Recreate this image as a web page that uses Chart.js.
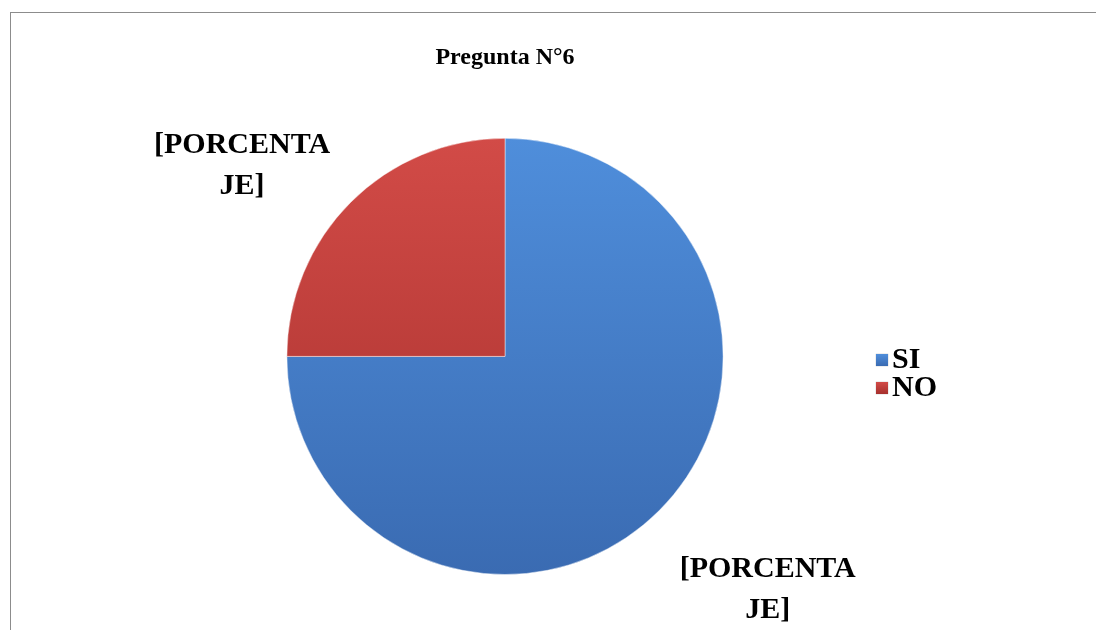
<!DOCTYPE html>
<html>
<head>
<meta charset="utf-8">
<script src="https://cdn.jsdelivr.net/npm/chart.js@4.4.0/dist/chart.umd.min.js"></script>
<style>
  html, body { margin: 0; padding: 0; background: #fff; }
  #wrap { position: relative; width: 1096px; height: 630px; overflow: hidden; }
  #frame { position: absolute; left: 10px; top: 12px; width: 1200px; height: 700px; border: 1px solid #8c8c8c; }
  canvas { position: absolute; left: 0; top: 0; }
  #legend { position: absolute; left: 876px; top: 344px; font: bold 30px "Liberation Serif", "Times New Roman", serif; color: #000; }
  #legend div { height: 28px; line-height: 28px; white-space: nowrap; }
  #legend span { display: inline-block; width: 12px; height: 12px; margin-right: 4px; vertical-align: 2px; box-shadow: 0 0 1px rgba(0,0,0,0.4); }
</style>
</head>
<body>
<div id="wrap">
  <div id="frame"></div>
  <canvas id="pie" width="1096" height="630"></canvas>
  <div id="legend"></div>
</div>
<script>
// Pregunta N°6 - SI / NO
const categories = ['SI', 'NO'];
const values = [75, 25];
const labelLines = ['[PORCENTA', 'JE]'];
const chartTitle = 'Pregunta N°6';

// light / dark shade per slice (Excel style shading)
const sliceShades = [
    ['#4f8edb', '#3a6bb2'],
    ['#d24b47', '#a6302d']
];

const fillFor = (context) => {
    const chart = context.chart;
    const area = chart.chartArea;
    const pair = sliceShades[context.dataIndex];
    if (!area) {
        return pair[0];
    }
    let g = chart.ctx.createLinearGradient(0, area.top, 0, area.bottom);
    g.addColorStop(0, pair[0]);
    g.addColorStop(1, pair[1]);
    return g;
};

// draws the "[PORCENTAJE]" placeholder outside each slice
const sliceLabels = {
    id: 'sliceLabels',
    afterDatasetsDraw(chart, args, opts) {
        const ctx = chart.ctx;
        const meta = chart.getDatasetMeta(0);
        ctx.save();
        ctx.font = opts.font;
        ctx.fillStyle = '#000';
        ctx.textAlign = 'center';
        ctx.textBaseline = 'middle';
        meta.data.forEach((arc, i) => {
            const p = arc.getProps(['x', 'y', 'startAngle', 'endAngle', 'outerRadius'], true);
            const mid = (p.startAngle + p.endAngle) / 2 + opts.turn[i];
            const d = p.outerRadius * opts.reach[i];
            const cx = p.x + Math.cos(mid) * d;
            const cy = p.y + Math.sin(mid) * d;
            labelLines.forEach((line, k) => {
                ctx.fillText(line, cx, cy + (k - (labelLines.length - 1) / 2) * opts.lineGap);
            });
        });
        ctx.restore();
    }
};

const ctx = document.querySelector('#pie');
const pieChart = new Chart(ctx, {
    type: 'pie',
    data: {
        labels: categories,
        datasets: [{
            data: values,
            backgroundColor: fillFor,
            borderColor: 'rgba(255, 255, 255, 0.45)',
            borderWidth: 1
        }]
    },
    plugins: [sliceLabels],
    options: {
        responsive: false,
        animation: false,
        layout: {
            padding: { left: 146, right: 232, top: 0, bottom: 55 }
        },
        plugins: {
            title: {
                display: true,
                text: chartTitle,
                color: '#000',
                font: { family: '"Liberation Serif", "Times New Roman", serif', size: 24, weight: 'bold' },
                padding: { top: 43, bottom: 66 }
            },
            legend: { display: false },
            tooltip: { enabled: false },
            sliceLabels: {
                font: 'bold 30px "Liberation Serif", "Times New Roman", serif',
                turn: [-0.06, -0.157],
                reach: [1.61, 1.49],
                lineGap: 41
            }
        }
    }
});

// legend built from the chart's own labels
const legendBox = document.querySelector('#legend');
categories.forEach((name, i) => {
    let row = document.createElement('div');
    let swatch = document.createElement('span');
    swatch.style.background = 'linear-gradient(' + sliceShades[i][0] + ', ' + sliceShades[i][1] + ')';
    row.appendChild(swatch);
    row.appendChild(document.createTextNode(name));
    legendBox.appendChild(row);
});
</script>
</body>
</html>
